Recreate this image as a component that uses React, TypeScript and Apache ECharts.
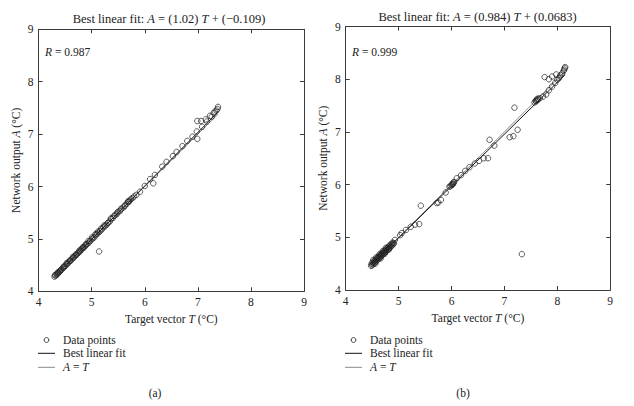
import React, { useEffect, useRef } from "react";
import * as echarts from "echarts";

// ---------- Data ----------
const axisTicks = [4, 5, 6, 7, 8, 9];

// Panel (a)
const leftT = [
  4.30, 4.32, 4.34, 4.35, 4.37, 4.39, 4.40, 4.42, 4.44, 4.46, 4.48, 4.50, 4.52, 4.54, 4.56, 4.58, 4.60, 4.62, 4.64, 4.66,
  4.68, 4.70, 4.72, 4.74, 4.76, 4.78, 4.80, 4.82, 4.84, 4.86, 4.88, 4.90, 4.92, 4.95, 4.97, 5.00, 5.02, 5.05, 5.08, 5.10,
  5.13, 5.16, 5.19, 5.22, 5.25, 5.28, 5.31, 5.34, 5.37, 5.40, 5.44, 5.47, 5.50, 5.53, 5.56, 5.60, 5.63, 5.66, 5.68, 5.70,
  5.72, 5.74, 5.77, 5.80, 5.84,
  4.31, 4.36, 4.41, 4.47, 4.53, 4.59, 4.65, 4.71, 4.77, 4.83, 4.89, 4.94, 5.01, 5.07, 5.12, 5.18, 5.24, 5.30, 5.36, 5.42,
  5.48, 5.55, 5.62, 5.69,
  5.91, 6.00, 6.10, 6.19, 6.33, 6.41, 6.53, 6.60, 6.71, 6.80, 6.90, 6.98, 7.08, 7.17, 7.26, 7.32,
  5.14, 6.16, 6.99, 6.99, 7.06, 7.15, 7.23, 7.30, 7.35, 7.37, 7.38,
];
const leftA = [
  4.28, 4.30, 4.33, 4.32, 4.35, 4.37, 4.38, 4.41, 4.42, 4.45, 4.46, 4.48, 4.51, 4.52, 4.55, 4.57, 4.58, 4.61, 4.63, 4.64,
  4.67, 4.69, 4.70, 4.73, 4.75, 4.76, 4.79, 4.81, 4.83, 4.84, 4.87, 4.89, 4.91, 4.93, 4.96, 4.99, 5.01, 5.03, 5.07, 5.10,
  5.12, 5.15, 5.18, 5.22, 5.24, 5.27, 5.31, 5.33, 5.38, 5.40, 5.45, 5.47, 5.52, 5.53, 5.58, 5.60, 5.64, 5.67, 5.70, 5.71,
  5.73, 5.76, 5.78, 5.81, 5.84,
  4.31, 4.36, 4.40, 4.47, 4.54, 4.59, 4.66, 4.71, 4.78, 4.84, 4.90, 4.96, 5.03, 5.09, 5.14, 5.20, 5.26, 5.30, 5.39, 5.44,
  5.50, 5.56, 5.63, 5.72,
  5.90, 6.01, 6.14, 6.22, 6.38, 6.47, 6.58, 6.66, 6.77, 6.87, 6.95, 7.05, 7.14, 7.24, 7.33, 7.43,
  4.76, 6.06, 6.91, 7.25, 7.25, 7.28, 7.35, 7.40, 7.45, 7.48, 7.52,
];
const leftFit = { slope: 1.02, intercept: -0.109, r: "0.987" };

// Panel (b)
const rightT = [
  4.48, 4.49, 4.50, 4.51, 4.52, 4.53, 4.54, 4.55, 4.56, 4.57, 4.58, 4.59, 4.60, 4.61, 4.62, 4.63, 4.64, 4.65, 4.66, 4.67,
  4.68, 4.69, 4.70, 4.71, 4.72, 4.73, 4.74, 4.75, 4.76, 4.77, 4.78, 4.79, 4.80, 4.81, 4.82, 4.83, 4.84, 4.85, 4.86, 4.87,
  4.88, 4.89, 4.90, 4.91, 4.52, 4.58, 4.64, 4.70, 4.76, 4.56, 4.66, 4.74, 4.82,
  4.93, 5.03, 5.06, 5.14, 5.23, 5.31, 5.39, 5.42, 5.72, 5.75, 5.80, 5.89, 5.96,
  5.98, 6.00, 6.01, 6.02, 6.03, 6.04, 6.05, 6.10, 6.18, 6.26, 6.34, 6.44, 6.52, 6.61, 6.69, 6.72, 6.81, 7.10, 7.17, 7.25,
  7.19, 7.33,
  7.57, 7.59, 7.60, 7.61, 7.62, 7.63, 7.64, 7.67, 7.73, 7.79, 7.84, 7.90, 7.96, 8.03, 8.09, 8.13, 8.15, 8.14, 8.12,
  7.76, 7.84, 7.90, 7.98, 8.06, 8.00, 8.05,
];
const rightA = [
  4.46, 4.50, 4.47, 4.52, 4.49, 4.54, 4.51, 4.56, 4.53, 4.58, 4.55, 4.60, 4.57, 4.62, 4.59, 4.64, 4.61, 4.66, 4.63, 4.68,
  4.65, 4.70, 4.67, 4.72, 4.69, 4.74, 4.71, 4.76, 4.73, 4.78, 4.75, 4.80, 4.77, 4.82, 4.79, 4.84, 4.81, 4.86, 4.83, 4.88,
  4.85, 4.90, 4.87, 4.89, 4.57, 4.62, 4.68, 4.74, 4.80, 4.50, 4.60, 4.69, 4.77,
  4.95, 5.04, 5.08, 5.14, 5.20, 5.24, 5.25, 5.60, 5.65, 5.66, 5.71, 5.85, 5.96,
  5.97, 5.99, 6.00, 6.02, 6.01, 6.04, 6.05, 6.12, 6.18, 6.26, 6.33, 6.40, 6.45, 6.50, 6.50, 6.85, 6.74, 6.90, 6.92, 7.04,
  7.46, 4.68,
  7.56, 7.59, 7.58, 7.61, 7.60, 7.63, 7.62, 7.64, 7.67, 7.71, 7.79, 7.86, 7.93, 8.02, 8.11, 8.18, 8.23, 8.21, 8.16,
  8.04, 8.00, 8.05, 8.09, 8.08, 7.99, 8.05,
];
const rightFit = { slope: 0.984, intercept: 0.0683, r: "0.999" };

const legendLabels = ["Data points", "Best linear fit"];
const captions = ["(a)", "(b)"];

// ---------- Helpers ----------
const FONT = "Liberation Serif";
const FS = 11.5;
const TFS = 12.5;
const INK = "#222";
const FRAME = "#3a3a3a";

const zip = (a: number[], b: number[]) => a.map((v, i) => [v, b[i]]);
const fitLine = (t: number[], f: { slope: number; intercept: number }) => {
  const lo = Math.min(...t);
  const hi = Math.max(...t);
  return [
    [lo, f.slope * lo + f.intercept],
    [hi, f.slope * hi + f.intercept],
  ];
};
const identityLine = (t: number[]) => {
  const lo = Math.min(...t);
  const hi = Math.max(...t);
  return [
    [lo, lo],
    [hi, hi],
  ];
};

const fmt = (v: number) => (v < 0 ? "\u2212" + Math.abs(v) : String(v));

export default function App() {
  const ref = useRef<HTMLDivElement>(null);

  useEffect(() => {
    document.body.style.margin = "0";
    const chart = echarts.init(ref.current!, null, { renderer: "svg" });

    const grids = [
      { left: 38.6, top: 29.3, width: 265.4, height: 262 },
      { left: 345.7, top: 26.5, width: 264.5, height: 263.5 },
    ];

    const rich = {
      i: { fontFamily: FONT, fontStyle: "italic" as const, fontSize: FS, color: INK },
    };
    const richT = {
      i: { fontFamily: FONT, fontStyle: "italic" as const, fontSize: TFS, color: INK },
    };

    const baseAxis = {
      min: 4,
      max: 9,
      interval: 1,
      axisLine: { show: true, lineStyle: { color: FRAME, width: 1 } },
      axisTick: { show: true, inside: true, length: 4, lineStyle: { color: FRAME } },
      splitLine: { show: false },
    };

    const xAxes: any[] = [];
    const yAxes: any[] = [];
    [0, 1].forEach((g) => {
      xAxes.push({
        ...baseAxis,
        type: "value",
        gridIndex: g,
        position: "bottom",
        axisLabel: {
          fontFamily: FONT,
          fontSize: FS,
          color: INK,
          margin: 5,
          formatter: (v: number) => (axisTicks.includes(v) ? String(v) : ""),
        },
        name: "Target vector {i|T} (\u00B0C)",
        nameLocation: "middle",
        nameGap: 20,
        nameTextStyle: { fontFamily: FONT, fontSize: FS, color: INK, rich },
      });
      xAxes.push({
        ...baseAxis,
        type: "value",
        gridIndex: g,
        position: "top",
        axisLabel: { show: false },
      });
      yAxes.push({
        ...baseAxis,
        type: "value",
        gridIndex: g,
        position: "left",
        axisLabel: { fontFamily: FONT, fontSize: FS, color: INK, margin: 5 },
        name: "Network output {i|A} (\u00B0C)",
        nameLocation: "middle",
        nameGap: 17,
        nameTextStyle: { fontFamily: FONT, fontSize: FS, color: INK, rich },
      });
      yAxes.push({
        ...baseAxis,
        type: "value",
        gridIndex: g,
        position: "right",
        axisLabel: { show: false },
      });
    });

    const scatterStyle = {
      color: "rgba(0,0,0,0)",
      borderColor: INK,
      borderWidth: 0.9,
    };

    const panels = [
      { t: leftT, a: leftA, f: leftFit, xi: 0, yi: 0 },
      { t: rightT, a: rightA, f: rightFit, xi: 2, yi: 2 },
    ];

    const series: any[] = [];
    panels.forEach((p) => {
      series.push({
        type: "line",
        xAxisIndex: p.xi,
        yAxisIndex: p.yi,
        data: identityLine(p.t),
        symbol: "none",
        lineStyle: { color: "#8a8a8a", width: 1 },
        z: 1,
      });
      series.push({
        type: "line",
        xAxisIndex: p.xi,
        yAxisIndex: p.yi,
        data: fitLine(p.t, p.f),
        symbol: "none",
        lineStyle: { color: "#111", width: 1 },
        z: 2,
      });
      series.push({
        type: "scatter",
        xAxisIndex: p.xi,
        yAxisIndex: p.yi,
        data: zip(p.t, p.a),
        symbol: "circle",
        symbolSize: 5.5,
        itemStyle: scatterStyle,
        z: 3,
      });
    });

    const titleText = (f: { slope: number; intercept: number }) =>
      `Best linear fit: {i|A} = (${fmt(f.slope)}) {i|T} + (${fmt(f.intercept)})`;

    const txt = (x: number, y: number, text: string, align: string = "left", size: number = FS, r: any = rich) => ({
      type: "text",
      x,
      y,
      style: {
        text,
        fontFamily: FONT,
        fontSize: size,
        fill: INK,
        align,
        verticalAlign: "middle",
        rich: r,
      },
    });

    const legendAt = (x0: number) => [
      {
        type: "circle",
        shape: { cx: x0 + 8.5, cy: 340, r: 2.4 },
        style: { fill: "none", stroke: INK, lineWidth: 0.9 },
      },
      txt(x0 + 25, 340, legendLabels[0]),
      {
        type: "line",
        shape: { x1: x0, y1: 353.3, x2: x0 + 17, y2: 353.3 },
        style: { stroke: "#111", lineWidth: 1 },
      },
      txt(x0 + 25, 353.3, legendLabels[1]),
      {
        type: "line",
        shape: { x1: x0, y1: 367.3, x2: x0 + 17, y2: 367.3 },
        style: { stroke: "#8a8a8a", lineWidth: 1 },
      },
      txt(x0 + 25, 367.3, "{i|A} = {i|T}"),
    ];

    chart.setOption({
      animation: false,
      backgroundColor: "#fff",
      grid: grids,
      xAxis: xAxes,
      yAxis: yAxes,
      series,
      graphic: [
        txt(169, 19, titleText(leftFit), "center", TFS, richT),
        txt(477.5, 16.7, titleText(rightFit), "center", TFS, richT),
        txt(45, 51.7, `{i|R} = ${leftFit.r}`),
        txt(352, 51.7, `{i|R} = ${rightFit.r}`),
        ...legendAt(38),
        ...legendAt(345),
        txt(155, 393, captions[0], "center"),
        txt(463, 393, captions[1], "center"),
      ],
    });

    return () => chart.dispose();
  }, []);

  return <div ref={ref} style={{ width: 634, height: 406 }} />;
}
